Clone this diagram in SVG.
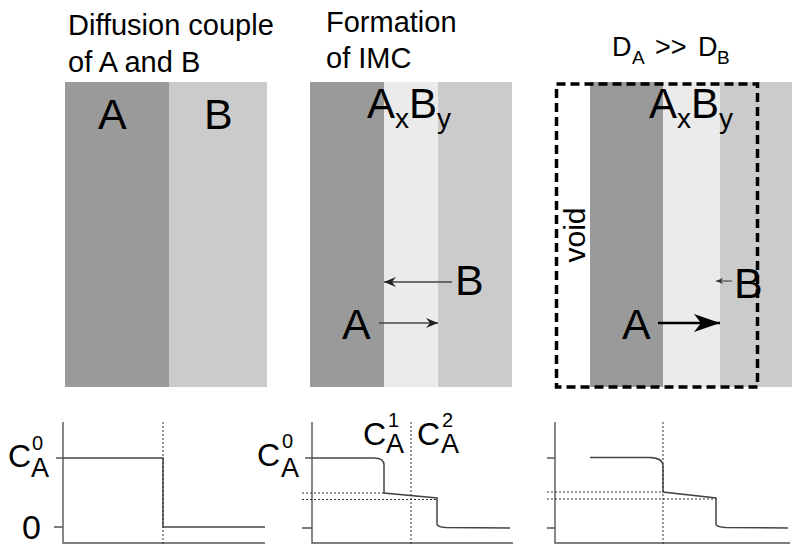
<svg xmlns="http://www.w3.org/2000/svg" width="800" height="546" viewBox="0 0 800 546">
  <style>
    text { font-family: "Liberation Sans", Arial, sans-serif; fill: #000; }
    .title { font-size: 29px; }
    .big { font-size: 43px; }
    .phase { font-size: 42px; }
    .sub { font-size: 28px; }
    .cmain { font-size: 32px; }
    .csub { font-size: 27px; }
    .csup { font-size: 20px; }
    .dark { fill: #9a9a9a; }
    .mid { fill: #cbcbcb; }
    .light { fill: #ebebeb; }
    .axis { fill: none; stroke: #555; stroke-width: 1.4; }
    .curve { fill: none; stroke: #444; stroke-width: 1.5; }
    .dot { fill: none; stroke: #333; stroke-width: 1; stroke-dasharray: 2 2; }
    .flux { fill: none; stroke: #444; stroke-width: 1.5; }
  </style>
  <defs>
    <marker id="headThin" markerUnits="userSpaceOnUse" markerWidth="14" markerHeight="10" refX="12" refY="5" orient="auto">
      <path d="M0,0 L12,5 L0,10 L4,5 Z" fill="#222"/>
    </marker>
    <marker id="headBold" markerUnits="userSpaceOnUse" markerWidth="28" markerHeight="18" refX="26" refY="9" orient="auto">
      <path d="M0,0 L26,9 L0,18 L7,9 Z" fill="#000"/>
    </marker>
    <marker id="headTiny" markerUnits="userSpaceOnUse" markerWidth="8" markerHeight="6" refX="7" refY="3" orient="auto">
      <path d="M0,0 L7,3 L0,6 L2,3 Z" fill="#333"/>
    </marker>
  </defs>

  <!-- stage 1: diffusion couple -->
  <g id="couple">
    <text class="title" x="68" y="35">Diffusion couple</text>
    <text class="title" x="68" y="72">of A and B</text>
    <rect class="dark" x="65" y="82" width="104" height="305"/>
    <rect class="mid" x="169" y="82" width="98" height="305"/>
    <text class="big" x="98" y="129">A</text>
    <text class="big" x="204" y="129">B</text>
  </g>

  <!-- stage 2: intermetallic layer forms -->
  <g id="imc">
    <text class="title" x="326" y="32">Formation</text>
    <text class="title" x="326" y="68">of IMC</text>
    <rect class="dark" x="310" y="82" width="74" height="305"/>
    <rect class="light" x="384" y="82" width="54" height="305"/>
    <rect class="mid" x="438" y="82" width="74" height="305"/>
    <text class="phase" x="367" y="118">A<tspan class="sub" dy="10">x</tspan><tspan dy="-10">B</tspan><tspan class="sub" dy="10">y</tspan></text>
    <text class="big" x="342" y="339">A</text>
    <text class="big" x="455" y="295">B</text>
  </g>

  <!-- stage 3: unequal diffusivities leave a void -->
  <g id="kirkendall">
    <text x="612" y="56" font-size="27">D<tspan font-size="19" x="632" y="64">A</tspan><tspan x="655" y="56">&gt;&gt;</tspan><tspan x="698" y="56">D</tspan><tspan font-size="19" x="717" y="64">B</tspan></text>
    <rect class="dark" x="590" y="82" width="73" height="305"/>
    <rect class="light" x="663" y="82" width="57" height="305"/>
    <rect class="mid" x="720" y="82" width="72" height="305"/>
    <rect x="556.5" y="84" width="201" height="303" fill="none" stroke="#000" stroke-width="3.5" stroke-dasharray="9 5"/>
    <text class="phase" x="649" y="118">A<tspan class="sub" dy="10">x</tspan><tspan dy="-10">B</tspan><tspan class="sub" dy="10">y</tspan></text>
    <text transform="translate(585,235) rotate(-90)" text-anchor="middle" font-size="30">void</text>
    <text class="big" x="622" y="339">A</text>
    <text class="big" x="734" y="298">B</text>
  </g>

  <!-- flux arrows -->
  <g id="connectors">
    <line class="flux" x1="452" y1="282" x2="384" y2="282" marker-end="url(#headThin)"/>
    <line class="flux" x1="379" y1="323" x2="438" y2="323" marker-end="url(#headThin)"/>
    <line x1="658" y1="323" x2="720" y2="323" stroke="#000" stroke-width="2.5" marker-end="url(#headBold)"/>
    <line x1="732" y1="281" x2="716" y2="281" stroke="#333" stroke-width="1" marker-end="url(#headTiny)"/>
  </g>

  <!-- concentration profile 1 -->
  <g id="profile1">
    <path class="axis" d="M63,422 V543 H265 M56,458 H63 M54,527 H63"/>
    <path class="curve" d="M63,458 H163 V527 H265"/>
    <path class="dot" d="M163,422 V546"/>
    <text class="cmain" x="8" y="467">C</text>
    <text class="csup" x="32" y="450">0</text>
    <text class="csub" x="31" y="477">A</text>
    <text x="22" y="539" font-size="34">0</text>
  </g>

  <!-- concentration profile 2 -->
  <g id="profile2">
    <path class="axis" d="M312,422 V543 H513 M305,458 H312 M302,528 H312"/>
    <path class="curve" d="M312,458 H374 Q384,458 384,465 V493 L437,498 V524 Q437,527 446,527.5 L510,528"/>
    <path class="dot" d="M302,493 H384 M302,499.5 H437 M411,422 V546"/>
    <text class="cmain" x="257" y="466">C</text>
    <text class="csup" x="282" y="448">0</text>
    <text class="csub" x="281" y="477">A</text>
    <text class="cmain" x="363" y="445">C</text>
    <text class="csup" x="388" y="427">1</text>
    <text class="csub" x="386" y="453">A</text>
    <text class="cmain" x="417" y="445">C</text>
    <text class="csup" x="442" y="427">2</text>
    <text class="csub" x="441" y="453">A</text>
  </g>

  <!-- concentration profile 3 -->
  <g id="profile3">
    <path class="axis" d="M555,422 V543 H790 M547,458 H555 M547,528 H555"/>
    <path class="curve" d="M590,457.5 H650 Q663,458 663,466 V492 L716,498 V524 Q716,527 726,527.5 L788,528"/>
    <path class="dot" d="M547,492 H663 M547,499 H716 M663,422 V546"/>
  </g>
</svg>
